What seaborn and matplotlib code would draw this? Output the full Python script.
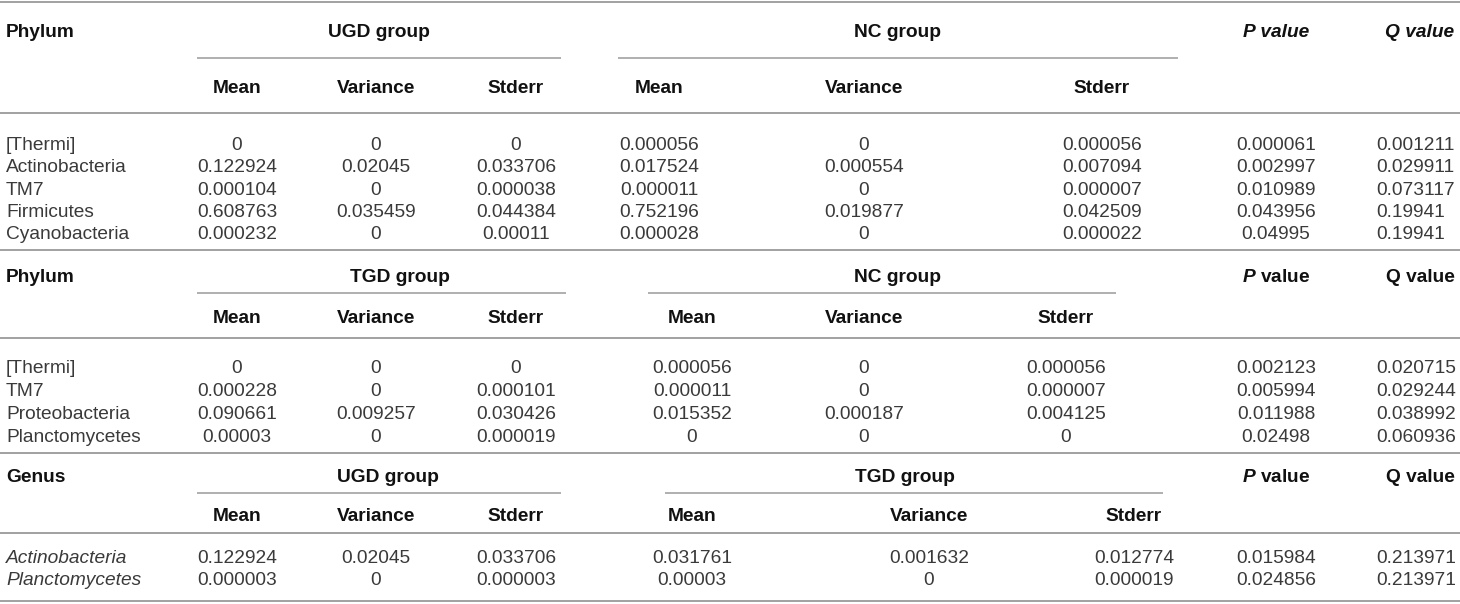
import numpy as np
import matplotlib.pyplot as plt
import seaborn as sns

# --- section 1: UGD vs NC (phylum)
s1_taxa = ['[Thermi]', 'Actinobacteria', 'TM7', 'Firmicutes', 'Cyanobacteria']
s1_ugd_mean = [0, 0.122924, 0.000104, 0.608763, 0.000232]
s1_ugd_var = [0, 0.02045, 0, 0.035459, 0]
s1_ugd_se = [0, 0.033706, 0.000038, 0.044384, 0.00011]
s1_nc_mean = [0.000056, 0.017524, 0.000011, 0.752196, 0.000028]
s1_nc_var = [0, 0.000554, 0, 0.019877, 0]
s1_nc_se = [0.000056, 0.007094, 0.000007, 0.042509, 0.000022]
s1_p = [0.000061, 0.002997, 0.010989, 0.043956, 0.04995]
s1_q = [0.001211, 0.029911, 0.073117, 0.19941, 0.19941]

# --- section 2: TGD vs NC (phylum)
s2_taxa = ['[Thermi]', 'TM7', 'Proteobacteria', 'Planctomycetes']
s2_tgd_mean = [0, 0.000228, 0.090661, 0.00003]
s2_tgd_var = [0, 0, 0.009257, 0]
s2_tgd_se = [0, 0.000101, 0.030426, 0.000019]
s2_nc_mean = [0.000056, 0.000011, 0.015352, 0]
s2_nc_var = [0, 0, 0.000187, 0]
s2_nc_se = [0.000056, 0.000007, 0.004125, 0]
s2_p = [0.002123, 0.005994, 0.011988, 0.02498]
s2_q = [0.020715, 0.029244, 0.038992, 0.060936]

# --- section 3: UGD vs TGD (genus)
s3_taxa = ['Actinobacteria', 'Planctomycetes']
s3_ugd_mean = [0.122924, 0.000003]
s3_ugd_var = [0.02045, 0]
s3_ugd_se = [0.033706, 0.000003]
s3_tgd_mean = [0.031761, 0.00003]
s3_tgd_var = [0.001632, 0]
s3_tgd_se = [0.012774, 0.000019]
s3_p = [0.015984, 0.024856]
s3_q = [0.213971, 0.213971]

sub_labels = ['Mean', 'Variance', 'Stderr']

sns.set_theme(style='white')
plt.rcParams['font.family'] = ['Liberation Sans', 'DejaVu Sans']
plt.rcParams['mathtext.fontset'] = 'custom'
plt.rcParams['mathtext.it'] = 'Liberation Sans:italic:bold'
plt.rcParams['mathtext.bf'] = 'Liberation Sans:bold'

fig = plt.figure(figsize=(14.6, 6.04), dpi=100)
ax = fig.add_axes([0, 0, 1, 1])
ax.set_xlim(0, 1460)
ax.set_ylim(604, 0)
ax.axis('off')

FS = 13.8
BASE = 7  # baseline offset from the visual centre of a text line (px)
VAL_COL = '#3a3a3a'
HDR_COL = '#111111'
LINE_COL = '#9a9a9a'


def fmt(v):
    return np.format_float_positional(v, trim='-')


def txt(x, y, s, ha='center', color=VAL_COL, **kw):
    ax.text(x, y + BASE, s, fontsize=FS, ha=ha, va='baseline', color=color, **kw)


def hline(y, x0=0, x1=1460, lw=1.3):
    ax.plot([x0, x1], [y, y], color=LINE_COL, lw=lw, solid_capstyle='butt')


def section(first, g1, g2, cols, taxa, series, ys, italic_taxa=False, pq_italic_all=False):
    hdr, ul, sub, line = ys['hdr'], ys['ul'], ys['sub'], ys['line']
    txt(6, hdr, first, ha='left', color=HDR_COL, fontweight='bold')
    # group headers, underlines, sub headers
    for name, (x0, x1, xc), xs in [(g1, cols['g1'], cols['g1x']), (g2, cols['g2'], cols['g2x'])]:
        txt(xc, hdr, name, color=HDR_COL, fontweight='bold')
        hline(ul, x0, x1, lw=1.1)
        for lab, x in zip(sub_labels, xs):
            txt(x, sub, lab, color=HDR_COL, fontweight='bold')
    # P / Q headers
    if pq_italic_all:
        txt(cols['p'], hdr, 'P value', color=HDR_COL, fontweight='bold', style='italic')
        txt(cols['qh'], hdr, 'Q value', color=HDR_COL, fontweight='bold', style='italic')
    else:
        txt(cols['p'], hdr, r'$\mathit{P}$ value', color=HDR_COL, fontweight='bold')
        txt(cols['qh'], hdr, 'Q value', color=HDR_COL, fontweight='bold')
    hline(line)
    # data rows
    xs_all = list(cols['g1x']) + list(cols['g2x']) + [cols['p']]
    for i, (taxon, y) in enumerate(zip(taxa, ys['rows'])):
        txt(6, y, taxon, ha='left', style='italic' if italic_taxa else 'normal')
        for x, s in zip(xs_all, series[:-1]):
            txt(x, y, fmt(s[i]))
        txt(cols['q'], y, fmt(series[-1][i]), ha='left')


left_cols = (237, 376, 516)
hline(1.5)

section('Phylum', 'UGD group', 'NC group',
        dict(g1=(197, 561, 379), g1x=left_cols, g2=(618, 1178, 898), g2x=(659, 864, 1102),
             p=1276, q=1376, qh=1420),
        s1_taxa,
        [s1_ugd_mean, s1_ugd_var, s1_ugd_se, s1_nc_mean, s1_nc_var, s1_nc_se, s1_p, s1_q],
        dict(hdr=30, ul=58, sub=86, line=113, rows=[143, 165, 188, 210, 232]),
        pq_italic_all=True)
hline(250)

section('Phylum', 'TGD group', 'NC group',
        dict(g1=(197, 566, 400), g1x=left_cols, g2=(648, 1116, 898), g2x=(692, 864, 1066),
             p=1276, q=1376, qh=1420),
        s2_taxa,
        [s2_tgd_mean, s2_tgd_var, s2_tgd_se, s2_nc_mean, s2_nc_var, s2_nc_se, s2_p, s2_q],
        dict(hdr=275, ul=293, sub=316, line=338, rows=[366, 389, 412, 435]))
hline(453)

section('Genus', 'UGD group', 'TGD group',
        dict(g1=(197, 561, 388), g1x=left_cols, g2=(665, 1163, 905), g2x=(692, 929, 1134),
             p=1276, q=1376, qh=1420),
        s3_taxa,
        [s3_ugd_mean, s3_ugd_var, s3_ugd_se, s3_tgd_mean, s3_tgd_var, s3_tgd_se, s3_p, s3_q],
        dict(hdr=475, ul=493, sub=514, line=533, rows=[556, 578]),
        italic_taxa=True)
hline(601)

fig.savefig('out.png', dpi=100)
